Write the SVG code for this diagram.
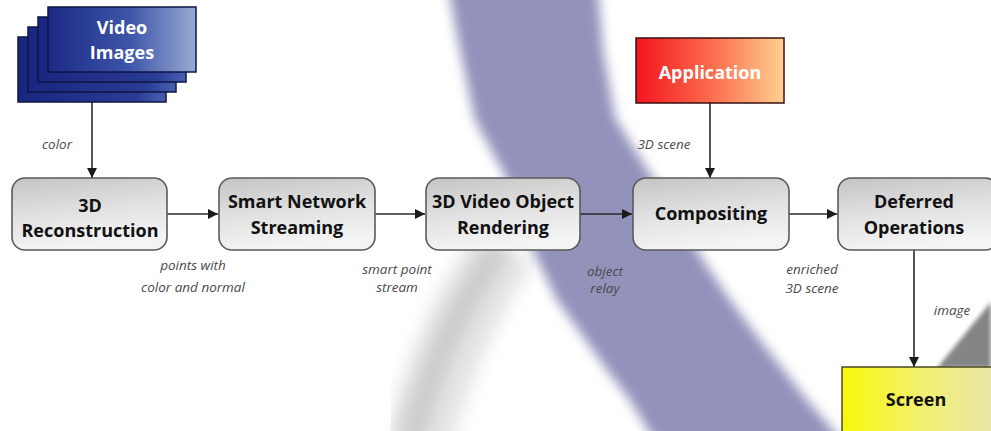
<svg xmlns="http://www.w3.org/2000/svg" width="991" height="431" viewBox="0 0 991 431">
  <defs>
    <style>
      .box { stroke: #5a5a5a; stroke-width: 1.6; fill: url(#boxGrad); }
      .title { font-family: "Open Sans", "DejaVu Sans", sans-serif; font-weight: 700; font-size: 18px; fill: #111; text-anchor: middle; }
      .white { fill: #ffffff; }
      .lbl { font-family: "Open Sans", "DejaVu Sans", sans-serif; font-style: italic; font-size: 13.5px; fill: #4a4a4a; text-anchor: middle; }
      .wire { stroke: #2a2a2a; stroke-width: 1.6; fill: none; marker-end: url(#arrow); }
    </style>
    <linearGradient id="boxGrad" x1="0" y1="0" x2="0.25" y2="1">
      <stop offset="0" stop-color="#c4c4c4"/>
      <stop offset="0.55" stop-color="#e2e2e2"/>
      <stop offset="1" stop-color="#f4f4f4"/>
    </linearGradient>
    <linearGradient id="blueGrad" x1="0" y1="0" x2="1" y2="0">
      <stop offset="0" stop-color="#1c2a86"/>
      <stop offset="0.55" stop-color="#3c55a8"/>
      <stop offset="1" stop-color="#98aad4"/>
    </linearGradient>
    <linearGradient id="blueBack" x1="0" y1="0" x2="1" y2="0">
      <stop offset="0" stop-color="#1a2680"/>
      <stop offset="0.8" stop-color="#2a3c96"/>
      <stop offset="1" stop-color="#4a60b0"/>
    </linearGradient>
    <linearGradient id="redGrad" x1="0" y1="0" x2="1" y2="0">
      <stop offset="0" stop-color="#f4141e"/>
      <stop offset="0.5" stop-color="#fb6a4c"/>
      <stop offset="1" stop-color="#fdd090"/>
    </linearGradient>
    <linearGradient id="yellowGrad" x1="0" y1="0" x2="1" y2="0">
      <stop offset="0" stop-color="#f8f808"/>
      <stop offset="0.5" stop-color="#f2f070"/>
      <stop offset="1" stop-color="#e6e4b0"/>
    </linearGradient>
    <filter id="soft" x="-20%" y="-20%" width="140%" height="140%">
      <feGaussianBlur stdDeviation="6"/>
    </filter>
    <filter id="softer" x="-30%" y="-30%" width="160%" height="160%">
      <feGaussianBlur stdDeviation="9"/>
    </filter>
    <filter id="edge" x="-10%" y="-10%" width="120%" height="120%">
      <feGaussianBlur stdDeviation="2"/>
    </filter>
    <marker id="arrow" viewBox="0 0 10 10" refX="10" refY="5" markerWidth="11" markerHeight="10" markerUnits="userSpaceOnUse" orient="auto">
      <path d="M0,0 L10,5 L0,10 Z" fill="#1a1a1a"/>
    </marker>
  </defs>

  <rect x="0" y="0" width="991" height="431" fill="#ffffff"/>

  <!-- background decoration: purple sweep, grey ribbon, grey corner -->
  <g id="background">
    <path d="M418,445 Q447,330 507,245" stroke="#e4e4e4" stroke-width="66" fill="none" filter="url(#softer)"/>
    <path d="M410,445 Q440,330 500,248" stroke="#cacaca" stroke-width="24" fill="none" filter="url(#softer)"/>
    <path d="M447,-20 L458,40 L475,120 L505,175 L535,255 L557,300 L580,332 L607,370 L630,400 L660,450 L850,450 L807,400 L760,340 L730,300 L703,260 L672,208 L640,158 L615,118 L603,50 L597,-20 Z" fill="#9292bb" filter="url(#soft)"/>
    <path d="M937,368 L991,302 L991,368 Z" fill="#858585" filter="url(#edge)"/>
  </g>

  <!-- connectors -->
  <g id="connectors">
    <line class="wire" x1="92" y1="102" x2="92" y2="178"/>
    <line class="wire" x1="167" y1="214" x2="218" y2="214"/>
    <line class="wire" x1="375" y1="214" x2="425" y2="214"/>
    <line class="wire" x1="580" y1="214" x2="632" y2="214"/>
    <line class="wire" x1="789" y1="214" x2="837" y2="214"/>
    <line class="wire" x1="710" y1="103" x2="710" y2="178"/>
    <line class="wire" x1="914" y1="250" x2="914" y2="367"/>

    <text class="lbl" x="57" y="149">color</text>
    <text class="lbl" x="193" y="270">points with</text>
    <text class="lbl" x="193" y="292">color and normal</text>
    <text class="lbl" x="397" y="274">smart point</text>
    <text class="lbl" x="397" y="292">stream</text>
    <text class="lbl" x="605" y="276">object</text>
    <text class="lbl" x="605" y="293">relay</text>
    <text class="lbl" x="664" y="149">3D scene</text>
    <text class="lbl" x="812" y="274">enriched</text>
    <text class="lbl" x="812" y="293">3D scene</text>
    <text class="lbl" x="952" y="315">image</text>
  </g>

  <g id="video-images">
    <rect x="18" y="37" width="148" height="65" fill="url(#blueBack)" stroke="#0e1545" stroke-width="1.5"/>
    <rect x="28" y="27" width="148" height="65" fill="url(#blueBack)" stroke="#0e1545" stroke-width="1.5"/>
    <rect x="38" y="17" width="148" height="65" fill="url(#blueBack)" stroke="#0e1545" stroke-width="1.5"/>
    <rect x="48" y="7" width="148" height="65" fill="url(#blueGrad)" stroke="#0e1545" stroke-width="1.5"/>
    <text class="title white" x="122" y="34">Video</text>
    <text class="title white" x="122" y="59">Images</text>
  </g>

  <g id="reconstruction">
    <rect class="box" x="12" y="178" width="155" height="72" rx="13"/>
    <text class="title" x="90" y="212">3D</text>
    <text class="title" x="90" y="237">Reconstruction</text>
  </g>

  <g id="streaming">
    <rect class="box" x="219" y="178" width="156" height="72" rx="13"/>
    <text class="title" x="297" y="208">Smart Network</text>
    <text class="title" x="297" y="234">Streaming</text>
  </g>

  <g id="rendering">
    <rect class="box" x="426" y="178" width="154" height="72" rx="13"/>
    <text class="title" x="503" y="208">3D Video Object</text>
    <text class="title" x="503" y="234">Rendering</text>
  </g>

  <g id="application">
    <rect x="636" y="38" width="148" height="65" fill="url(#redGrad)" stroke="#3a1010" stroke-width="1.5"/>
    <text class="title white" x="710" y="79">Application</text>
  </g>

  <g id="compositing">
    <rect class="box" x="633" y="178" width="156" height="72" rx="13"/>
    <text class="title" x="711" y="220">Compositing</text>
  </g>

  <g id="deferred">
    <rect class="box" x="838" y="178" width="160" height="72" rx="13"/>
    <text class="title" x="914" y="208">Deferred</text>
    <text class="title" x="914" y="234">Operations</text>
  </g>

  <g id="screen">
    <rect x="842" y="367" width="160" height="70" fill="url(#yellowGrad)" stroke="#4a4a20" stroke-width="1.5"/>
    <text class="title" x="916" y="406">Screen</text>
  </g>
</svg>
